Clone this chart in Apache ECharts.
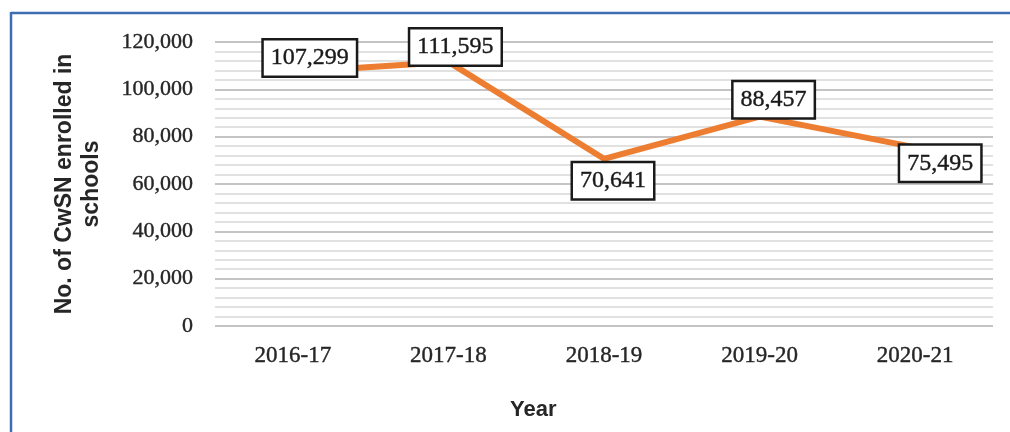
<!DOCTYPE html>
<html>
<head>
<meta charset="utf-8">
<script src="https://cdn.jsdelivr.net/npm/echarts@6/dist/echarts.min.js"></script>
<style>
html,body{margin:0;padding:0;background:#fff;}
#c{width:1010px;height:432px;}
</style>
</head>
<body>
<div id="c"></div>
<script>
const categories = ['2016-17', '2017-18', '2018-19', '2019-20', '2020-21'];
const enrolled = [107299, 111595, 70641, 88457, 75495];
const yTicks = { min: 0, max: 120000, interval: 20000 };
const yAxisTitle = 'No. of CwSN enrolled in\nschools';
const xAxisTitle = 'Year';

// label box offsets (style only, px relative to each point)
const labelOffsets = [[17, -14], [7, -15], [9, 22], [14, -17], [25, 16]];

const chart = echarts.init(document.getElementById('c'));
const serif = '"Liberation Serif", "Times New Roman", serif';
const sans = '"Liberation Sans", Arial, sans-serif';
const heavy = { textBorderColor: '#262626', textBorderWidth: 0.4 };

chart.setOption({
  animation: false,
  backgroundColor: '#ffffff',
  grid: { left: 215, right: 17, top: 42, bottom: 106 },
  xAxis: {
    type: 'category',
    data: categories,
    boundaryGap: true,
    axisLine: { show: false },
    axisTick: { show: false },
    axisLabel: Object.assign({ fontFamily: serif, fontSize: 23, color: '#262626', margin: 18 }, heavy)
  },
  yAxis: {
    type: 'value',
    min: yTicks.min, max: yTicks.max, interval: yTicks.interval,
    name: yAxisTitle,
    nameLocation: 'middle',
    nameGap: 110,
    nameRotate: 90,
    nameTextStyle: { fontFamily: sans, fontSize: 23, fontWeight: 'bold', color: '#262626', lineHeight: 27, align: 'center' },
    axisLine: { show: false },
    axisTick: { show: false },
    axisLabel: Object.assign({
      fontFamily: serif, fontSize: 22, color: '#262626', margin: 22,
      formatter: v => v.toLocaleString('en-US')
    }, heavy),
    splitLine: { show: true, lineStyle: { color: '#c4c4c4', width: 2 } },
    minorTick: { show: false, splitNumber: 5 },
    minorSplitLine: { show: true, lineStyle: { color: '#d8d8d8', width: 1.5 } }
  },
  graphic: [
    { type: 'line', shape: { x1: 11, y1: 13, x2: 1010, y2: 13 }, style: { stroke: '#3f6db3', lineWidth: 2.5 } },
    { type: 'line', shape: { x1: 11, y1: 12, x2: 11, y2: 432 }, style: { stroke: '#3f6db3', lineWidth: 2.5 } },
    { type: 'text', left: 510, top: 399, style: { text: xAxisTitle, font: 'bold 22px "Liberation Sans", Arial, sans-serif', fill: '#262626' } }
  ],
  series: [{
    type: 'line',
    data: enrolled,
    symbol: 'circle',
    symbolSize: 0.1,
    showSymbol: true,
    itemStyle: { color: '#ED7D31' },
    lineStyle: { color: '#ED7D31', width: 6 },
    z: 3,
    label: {
      show: true,
      position: 'inside',
      align: 'center',
      verticalAlign: 'middle',
      fontFamily: serif,
      fontSize: 24,
      lineHeight: 25,
      color: '#1a1a1a',
      textBorderColor: '#1a1a1a',
      textBorderWidth: 0.4,
      backgroundColor: '#ffffff',
      borderColor: '#1a1a1a',
      borderWidth: 2.5,
      padding: [6, 7, 4, 7],
      formatter: p => p.value.toLocaleString('en-US')
    },
    labelLayout: p => ({
      dx: labelOffsets[p.dataIndex][0],
      dy: labelOffsets[p.dataIndex][1],
      hideOverlap: false
    })
  }]
});
</script>
</body>
</html>
